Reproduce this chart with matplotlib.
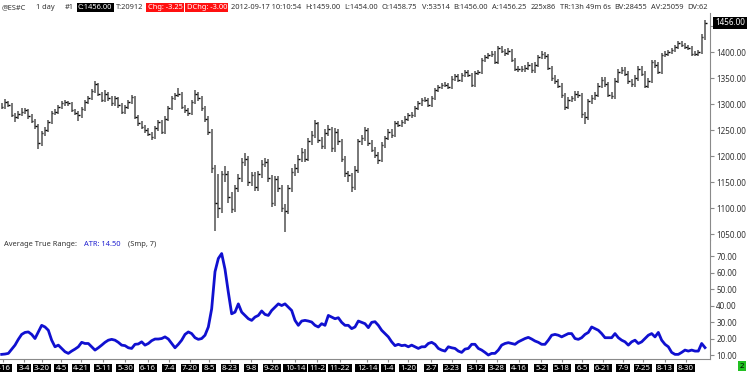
import matplotlib
matplotlib.use("Agg")
import matplotlib.pyplot as plt
import numpy as np

# ES continuous, daily bars (two sessions per bar)
closes = [
    1295, 1303, 1298, 1279, 1275, 1280, 1285, 1288, 1276, 1268,
    1258, 1225, 1244, 1250, 1266, 1282, 1285, 1295, 1301, 1303,
    1301, 1288, 1282, 1278, 1290, 1304, 1312, 1325, 1338, 1320,
    1308, 1320, 1311, 1301, 1311, 1298, 1285, 1295, 1304, 1314,
    1275, 1263, 1256, 1250, 1243, 1237, 1253, 1266, 1247, 1272,
    1292, 1311, 1317, 1320, 1295, 1288, 1282, 1304, 1320, 1311,
    1292, 1272, 1247, 1176, 1110, 1100, 1165, 1165, 1122, 1099,
    1138, 1157, 1189, 1195, 1150, 1163, 1140, 1165, 1185, 1188,
    1157, 1110, 1155, 1138, 1100, 1095, 1138, 1170, 1176, 1195,
    1208, 1195, 1228, 1240, 1263, 1230, 1220, 1245, 1252, 1215,
    1247, 1228, 1195, 1167, 1163, 1141, 1173, 1228, 1234, 1250,
    1225, 1212, 1202, 1192, 1221, 1234, 1247, 1240, 1263, 1260,
    1266, 1272, 1279, 1279, 1292, 1301, 1308, 1308, 1298, 1311,
    1327, 1333, 1337, 1337, 1333, 1349, 1353, 1346, 1356, 1362,
    1356, 1337, 1359, 1362, 1385, 1391, 1394, 1397, 1381, 1407,
    1402, 1398, 1402, 1385, 1368, 1368, 1367, 1370, 1375, 1365,
    1375, 1390, 1396, 1392, 1370, 1350, 1344, 1335, 1318, 1295,
    1308, 1311, 1320, 1317, 1280, 1275, 1305, 1312, 1318, 1335,
    1346, 1338, 1318, 1315, 1345, 1362, 1366, 1358, 1344, 1338,
    1350, 1368, 1358, 1335, 1345, 1380, 1375, 1362, 1394, 1397,
    1400, 1404, 1410, 1417, 1413, 1410, 1407, 1397, 1397, 1400,
    1428, 1456,
]
highs = [
    1302, 1310, 1306, 1301, 1283, 1286, 1292, 1293, 1291, 1280,
    1272, 1262, 1249, 1256, 1270, 1286, 1290, 1299, 1305, 1307,
    1306, 1304, 1291, 1287, 1294, 1308, 1316, 1329, 1345, 1341,
    1323, 1326, 1324, 1315, 1316, 1314, 1301, 1299, 1308, 1318,
    1316, 1279, 1267, 1260, 1254, 1247, 1257, 1270, 1269, 1276,
    1296, 1315, 1322, 1330, 1323, 1299, 1292, 1308, 1326, 1324,
    1315, 1296, 1277, 1252, 1182, 1165, 1172, 1180, 1172, 1130,
    1145, 1165, 1196, 1205, 1200, 1170, 1170, 1172, 1192, 1196,
    1195, 1163, 1162, 1162, 1145, 1108, 1145, 1177, 1184, 1202,
    1215, 1214, 1235, 1248, 1270, 1266, 1236, 1252, 1259, 1256,
    1253, 1252, 1232, 1200, 1172, 1168, 1180, 1233, 1240, 1255,
    1254, 1230, 1217, 1207, 1226, 1239, 1252, 1251, 1267, 1267,
    1270, 1276, 1283, 1284, 1296, 1305, 1312, 1313, 1312, 1315,
    1331, 1337, 1341, 1342, 1341, 1353, 1357, 1357, 1360, 1366,
    1366, 1360, 1363, 1366, 1389, 1395, 1398, 1401, 1401, 1411,
    1411, 1406, 1407, 1406, 1389, 1374, 1373, 1375, 1380, 1379,
    1380, 1394, 1401, 1400, 1396, 1374, 1355, 1349, 1340, 1322,
    1313, 1316, 1325, 1325, 1322, 1285, 1310, 1317, 1323, 1340,
    1351, 1351, 1343, 1323, 1350, 1367, 1371, 1371, 1363, 1349,
    1355, 1373, 1373, 1363, 1350, 1385, 1385, 1380, 1398, 1401,
    1404, 1408, 1414, 1421, 1421, 1417, 1414, 1411, 1402, 1404,
    1434, 1462,
]
lows = [
    1290, 1291, 1294, 1275, 1265, 1271, 1276, 1280, 1272, 1263,
    1252, 1214, 1220, 1238, 1246, 1262, 1278, 1281, 1291, 1297,
    1296, 1284, 1278, 1268, 1274, 1287, 1300, 1308, 1321, 1316,
    1303, 1304, 1306, 1296, 1297, 1293, 1280, 1281, 1291, 1300,
    1271, 1258, 1251, 1245, 1238, 1230, 1233, 1249, 1242, 1243,
    1268, 1288, 1307, 1313, 1290, 1283, 1276, 1278, 1300, 1306,
    1287, 1265, 1240, 1168, 1056, 1080, 1090, 1150, 1110, 1090,
    1092, 1130, 1150, 1180, 1142, 1143, 1132, 1133, 1158, 1178,
    1150, 1102, 1103, 1130, 1092, 1053, 1088, 1130, 1162, 1168,
    1188, 1188, 1190, 1222, 1234, 1225, 1213, 1214, 1238, 1208,
    1208, 1222, 1188, 1160, 1150, 1130, 1135, 1168, 1222, 1229,
    1220, 1207, 1197, 1185, 1188, 1216, 1230, 1235, 1236, 1255,
    1256, 1262, 1268, 1274, 1275, 1288, 1297, 1304, 1294, 1294,
    1307, 1323, 1329, 1332, 1328, 1329, 1345, 1342, 1342, 1352,
    1352, 1333, 1333, 1355, 1358, 1381, 1387, 1390, 1377, 1377,
    1398, 1393, 1394, 1380, 1363, 1362, 1361, 1362, 1365, 1360,
    1360, 1371, 1386, 1387, 1365, 1345, 1338, 1330, 1312, 1289,
    1290, 1303, 1306, 1311, 1274, 1262, 1270, 1300, 1307, 1313,
    1330, 1333, 1313, 1309, 1310, 1340, 1357, 1353, 1339, 1333,
    1333, 1345, 1353, 1330, 1330, 1340, 1370, 1357, 1357, 1390,
    1393, 1396, 1400, 1406, 1409, 1406, 1403, 1392, 1392, 1393,
    1396, 1424,
]
atr = [
    10.4, 10.6, 11.0, 13.5, 16, 19.5, 22.5, 23.7, 24, 22.5,
    20, 24, 28, 27, 25, 19, 15, 16, 14, 12,
    11, 12.4, 13.6, 15, 17.7, 17, 17, 15, 13, 14.4,
    16, 17.7, 19, 19.5, 19, 17.7, 16, 15.7, 14.4, 14,
    16.5, 16.7, 18, 16, 17, 18.7, 19.7, 19.7, 20, 21,
    19.7, 17, 14.4, 16.5, 19, 22.5, 24, 23, 20.5, 19.5,
    20, 22, 27, 38, 60.5, 68.5, 71.5, 62, 48, 35,
    36, 41, 36, 34, 32, 31, 33, 34, 36.7, 34.6,
    34, 37, 39, 41, 40, 41, 39, 37, 31, 28,
    30.6, 31, 30.6, 30, 28, 27, 29, 28, 34, 33,
    32, 32.6, 29.8, 28, 28, 26, 27, 30.6, 29.8, 29,
    26.6, 29.8, 30.2, 28, 25, 23, 21, 18, 15.7, 16.5,
    15.7, 16, 15, 16, 15, 14, 15, 15, 17, 17.7,
    16.5, 14, 13, 12.4, 15, 14.4, 14, 12.4, 11.6, 13.6,
    14, 16.5, 16.5, 14, 13, 11.6, 10, 11, 11, 13,
    16, 17, 17.5, 17, 16.5, 18, 19, 20, 20.7, 19.7,
    18.5, 17.7, 16.5, 16.5, 19, 22, 22.5, 22, 21, 22,
    23, 23, 20, 19.5, 20.5, 22.5, 23.7, 27, 26, 25,
    23, 20.5, 20.5, 20.5, 23, 20.5, 19, 18, 16, 18,
    19, 17, 18, 20, 22, 23, 21, 23.7, 19, 16.5,
    15, 11.6, 10.4, 10.4, 11.6, 13, 12.4, 13, 12.4, 12.4,
    17, 14.5,
]

tick_labels = ["2-16", "3-4", "3-20", "4-5", "4-21", "5-11", "5-30", "6-16",
               "7-4", "7-20", "8-5", "8-23", "9-8", "9-26", "10-14", "11-2",
               "11-22", "12-14", "1-4", "1-20", "2-7", "2-23", "3-12", "3-28",
               "4-16", "5-2", "5-18", "6-5", "6-21", "7-9", "7-25", "8-13", "8-30"]
tick_bars = [0.4, 6.7, 12.1, 17.8, 23.8, 30.4, 37.0, 43.9, 50.2, 56.5, 62.2,
             68.5, 74.8, 81.1, 88.0, 94.6, 101.5, 109.6, 115.9, 121.9, 128.8,
             135.1, 142.3, 148.6, 155.2, 161.8, 168.1, 174.1, 180.4, 186.4,
             192.4, 199.0, 205.3]

header = ["@ES#C", "1 day", "#1", "C:1456.00", "T:20912", "Chg: -3.25",
          "DChg: -3.00", "2012-09-17 10:10:54", "H:1459.00", "L:1454.00",
          "O:1458.75", "V:53514", "B:1456.00", "A:1456.25", "225x86",
          "TR:13h 49m 6s", "BV:28455", "AV:25059", "DV:62"]
header_bg = {"C:1456.00": "black", "Chg: -3.25": "#ff1010", "DChg: -3.00": "#ff1010"}
atr_title = ["Average True Range:", "ATR: 14.50", "(Smp, 7)"]

FONT = ["Noto Sans", "DejaVu Sans"]
W, H = 750, 372
GREY = "#8a8a8a"
TXT = "#333333"

fig = plt.figure(figsize=(W / 100, H / 100), dpi=100)
fig.patch.set_facecolor("white")
r = fig.canvas.get_renderer()


def px_box(l, t, rgt, b):
    return [l / W, 1 - b / H, (rgt - l) / W, (b - t) / H]


ax = fig.add_axes(px_box(0, 13, 710, 240))
ax2 = fig.add_axes(px_box(0, 240, 710, 359), sharex=ax)

x = np.arange(len(closes))

# price bars
ax.vlines(x, lows, highs, color="#606060", lw=1.2)
ax.hlines(closes, x, x + 0.45, color="black", lw=1.0)
ax.set_xlim(-0.5, 212.5)
ax.set_ylim(1038.5, 1475)
ax.set_yticks(np.arange(1050, 1451, 50))
ax.yaxis.set_major_formatter(matplotlib.ticker.FormatStrFormatter("%.2f"))
ax.yaxis.tick_right()
ax.tick_params(axis="y", direction="out", length=3, width=0.8, color=GREY,
               labelsize=5.8, labelcolor=TXT, pad=1.5)
ax.tick_params(axis="x", bottom=False, labelbottom=False)
for s in ["left", "top", "bottom"]:
    ax.spines[s].set_visible(False)
ax.spines["right"].set_color(GREY)
for lab in ax.get_yticklabels():
    lab.set_family(FONT)
ax.get_yticklabels()[-1].set_visible(False)  # hidden under the last-price box

ax.text(1 + 5 / 710, closes[-1], "%.2f" % closes[-1], transform=ax.get_yaxis_transform(),
        ha="left", va="center", fontsize=5.8, family=FONT, color="white", zorder=10,
        bbox=dict(facecolor="black", edgecolor="none", pad=1.3), clip_on=False)

# ATR panel
ax2.plot(x, atr, color="#1010d0", lw=2.0, solid_joinstyle="round")
ax2.set_ylim(7.6, 79.7)
ax2.set_yticks(np.arange(10, 71, 10))
ax2.yaxis.set_major_formatter(matplotlib.ticker.FormatStrFormatter("%.2f"))
ax2.yaxis.tick_right()
ax2.tick_params(axis="y", direction="out", length=3, width=0.8, color=GREY,
                labelsize=5.8, labelcolor=TXT, pad=1.5)
for s in ["left", "top"]:
    ax2.spines[s].set_visible(False)
ax2.spines["right"].set_color(GREY)
ax2.spines["bottom"].set_color(GREY)
ax2.set_xticks(tick_bars)
ax2.set_xticklabels(tick_labels)
ax2.tick_params(axis="x", direction="out", length=2.5, width=0.8, color=GREY,
                labelsize=5.6, labelcolor="white", pad=1.8)
for lab in ax2.get_xticklabels():
    lab.set_family(FONT)
    lab.set_bbox(dict(facecolor="black", edgecolor="none", pad=1.0))
for lab in ax2.get_yticklabels():
    lab.set_family(FONT)


def measure(s, size):
    t = fig.text(0, 0, s, fontsize=size, family=FONT)
    w = t.get_window_extent(r).width
    t.remove()
    return w


# header line, sized to run across the plot width
gaps = [10 if i < 2 else 4 for i in range(len(header))]
w10 = sum(measure(s, 10) for s in header)
hsize = 10 * (706 - 2 - sum(gaps[:-1])) / w10
xp = 2
for s, g in zip(header, gaps):
    bg = header_bg.get(s)
    t = fig.text(xp / W, 1 - 7.5 / H, s, fontsize=hsize, family=FONT, va="center",
                 ha="left", color="white" if bg else TXT,
                 bbox=dict(facecolor=bg, edgecolor="none", pad=1.0) if bg else None)
    xp = t.get_window_extent(r).x1 + g

xp = 4
for s, c, g in zip(atr_title, [TXT, "#2020d0", TXT], [7, 8, 0]):
    t = fig.text(xp / W, 1 - 245 / H, s, fontsize=hsize, family=FONT, va="center",
                 ha="left", color=c)
    xp = t.get_window_extent(r).x1 + g

fig.text(742 / W, 1 - 366 / H, "2", fontsize=5.6, family=FONT, va="center", ha="center",
         color="black", bbox=dict(facecolor="#22c022", edgecolor="none", pad=1.0))

fig.savefig("out.png", dpi=100, facecolor="white")
